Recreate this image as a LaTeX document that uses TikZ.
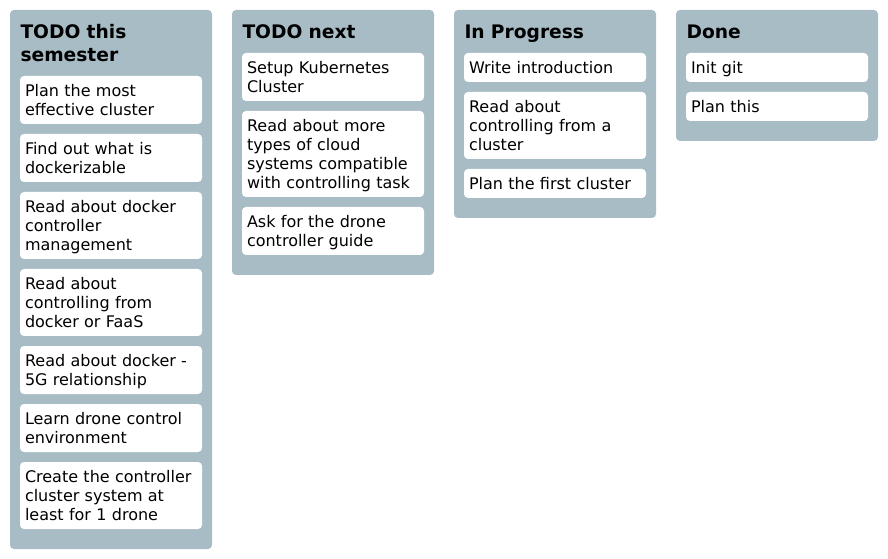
\documentclass[tikz,border=0pt]{standalone}
\usepackage{fontspec}
\setmainfont{DejaVu Sans}
\usetikzlibrary{positioning}

\definecolor{lanegray}{RGB}{168,188,197}

\tikzset{every picture/.style={line width=0.75pt}}
\tikzset{
  lane/.style={fill=lanegray, rounded corners=3pt},
  lanetitle/.style={anchor=north west, inner sep=0pt, align=left, text width=136.5pt,
    font=\fontsize{14}{17.25}\selectfont\bfseries, execute at begin node=\strut},
  card/.style={fill=white, rounded corners=3pt, inner xsep=3.75pt, inner ysep=3.75pt,
    outer sep=0pt, text width=129pt, align=left, font=\fontsize{12}{14.25}\selectfont,
    execute at begin node={\rule{0pt}{11.6pt}},
    execute at end node={\rule[-2.65pt]{0pt}{2.65pt}}},
}

\begin{document}
\begin{tikzpicture}[x=0.75pt,y=0.75pt,yscale=-1,xscale=1]
\useasboundingbox (0,0) rectangle (888,559);

%Rounded Rect: lanes
\path[lane] (10,10) rectangle (212,549);
\path[lane] (232,10) rectangle (434,275);
\path[lane] (454,10) rectangle (656,218);
\path[lane] (676,10) rectangle (878,141);

% Text Node: lane titles
\node[lanetitle] (semtitle) at (20,22) {TODO this\\semester};
\node[lanetitle] (nexttitle) at (242,22) {TODO next};
\node[lanetitle] (progtitle) at (464,22) {In Progress};
\node[lanetitle] (donetitle) at (686,22) {Done};

% Cards: TODO this semester
\node[card, anchor=north west] (sem1) at (20,76) {Plan the most\\effective cluster};
\node[card, below=7.5pt of sem1] (sem2) {Find out what is\\dockerizable};
\node[card, below=7.5pt of sem2] (sem3) {Read about docker\\controller\\management};
\node[card, below=7.5pt of sem3] (sem4) {Read about\\controlling from\\docker or FaaS};
\node[card, below=7.5pt of sem4] (sem5) {Read about docker -\\5G relationship};
\node[card, below=7.5pt of sem5] (sem6) {Learn drone control\\environment};
\node[card, below=7.5pt of sem6] (sem7) {Create the controller\\cluster system at\\least for 1 drone};

% Cards: TODO next
\node[card, anchor=north west] (next1) at (242,53) {Setup Kubernetes\\Cluster};
\node[card, below=7.5pt of next1] (next2) {Read about more\\types of cloud\\systems compatible\\with controlling task};
\node[card, below=7.5pt of next2] (next3) {Ask for the drone\\controller guide};

% Cards: In Progress
\node[card, anchor=north west] (prog1) at (464,53) {Write introduction};
\node[card, below=7.5pt of prog1] (prog2) {Read about\\controlling from a\\cluster};
\node[card, below=7.5pt of prog2] (prog3) {Plan the first cluster};

% Cards: Done
\node[card, anchor=north west] (done1) at (686,53) {Init git};
\node[card, below=7.5pt of done1] (done2) {Plan this};

\end{tikzpicture}
\end{document}
